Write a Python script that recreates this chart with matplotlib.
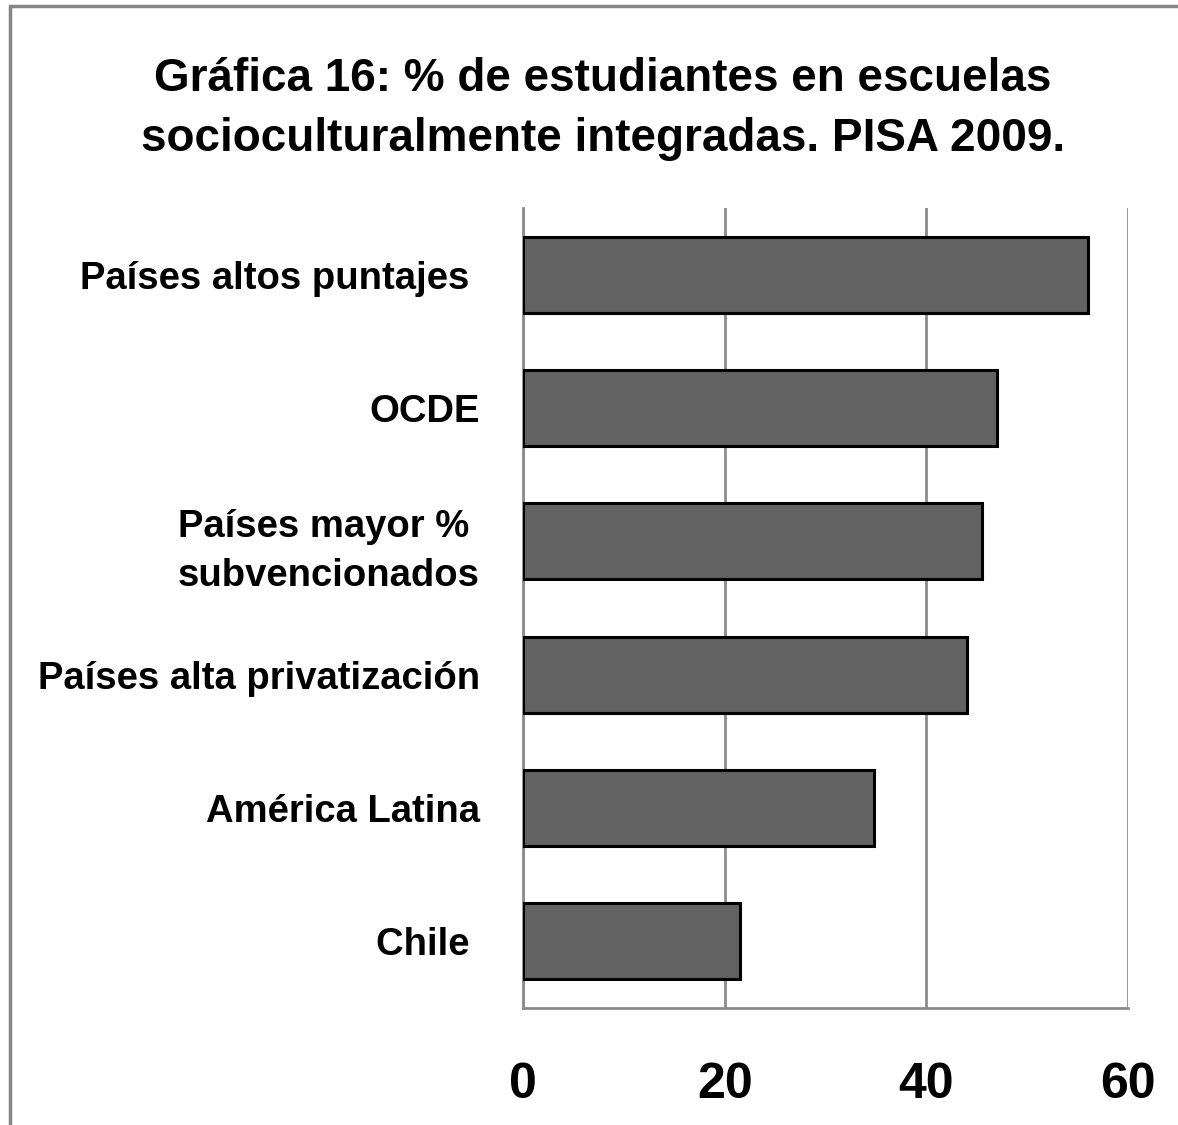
import matplotlib
matplotlib.use("Agg")
import matplotlib.pyplot as plt
from matplotlib import font_manager
from matplotlib.patches import Rectangle

# Data (top to bottom)
categories = ["Países altos puntajes ", "OCDE", "Países mayor % \nsubvencionados",
              "Países alta privatización", "América Latina", "Chile "]
values = [56.0, 47.0, 45.5, 44.0, 34.8, 21.5]
xticks = [0, 20, 40, 60]
title = "Gráfica 16: % de estudiantes en escuelas\nsocioculturalmente integradas. PISA 2009."

# Calibri-like narrow font if available
names = {f.name for f in font_manager.fontManager.ttflist}
family = "Liberation Sans Narrow" if "Liberation Sans Narrow" in names else "Liberation Sans"
plt.rcParams["font.family"] = family
plt.rcParams["font.weight"] = "bold"

fig = plt.figure(figsize=(11.78, 11.25), dpi=100)
ax = fig.add_axes([0.444, 0.104, 0.5136, 0.711])

ypos = list(range(len(categories)))
ax.barh(ypos, values, height=0.57, color="#626262", edgecolor="black",
        linewidth=2.2, zorder=3)

ax.set_ylim(len(categories) - 0.5, -0.5)
ax.set_xlim(0, 60)
ax.set_xticks(xticks)
ax.set_xticklabels([str(t) for t in xticks], fontsize=36, fontweight="bold")
ax.set_yticks(ypos)
ax.set_yticklabels(categories, fontsize=27.5, fontweight="bold", linespacing=1.45)
ax.tick_params(axis="both", length=0, colors="black")
ax.tick_params(axis="x", pad=39)
ax.tick_params(axis="y", pad=31)

ax.grid(axis="x", color="#8c8c8c", linewidth=2, zorder=0)
for side in ["top", "right"]:
    ax.spines[side].set_visible(False)
for side in ["left", "bottom"]:
    ax.spines[side].set_color("#8c8c8c")
    ax.spines[side].set_linewidth(2)

fig.text(0.512, 0.903, title, ha="center", va="center", fontsize=33,
         fontweight="bold", linespacing=1.47)

# outer chart border (only top and left visible in the crop)
fig.patches.append(Rectangle((10 / 1178, -0.1), 1.2, 1 - 6 / 1125 + 0.1,
                             transform=fig.transFigure, fill=False,
                             edgecolor="#868686", linewidth=2.5))

fig.savefig("out.png", dpi=100, facecolor="white")
